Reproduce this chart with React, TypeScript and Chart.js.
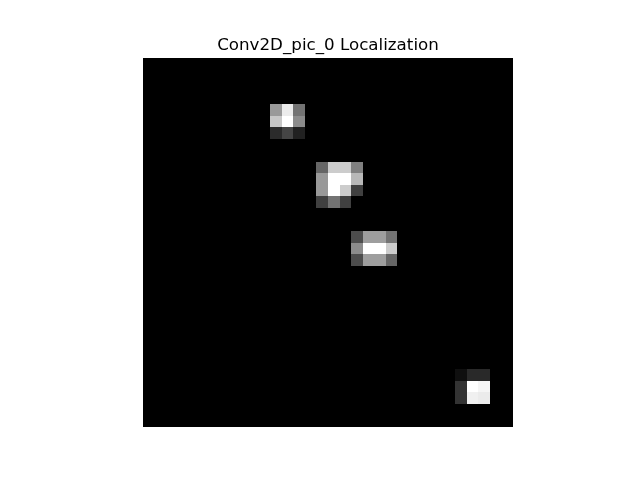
import { useEffect, useRef } from 'react'
import { Chart, registerables } from 'chart.js'

Chart.register(...registerables)

const gridSize = 32
const titleText = 'Conv2D_pic_0 Localization'

// top-left cell (row, col) of each bright patch, and its intensities (0..1)
const patchRows = [4, 9, 15, 27]
const patchCols = [11, 15, 18, 27]
const patchA = [
  [0.6, 0.92, 0.45],
  [0.78, 1.0, 0.55],
  [0.17, 0.27, 0.13]
]
const patchB = [
  [0.4, 0.8, 0.8, 0.5],
  [0.6, 1.0, 1.0, 0.72],
  [0.6, 1.0, 0.8, 0.25],
  [0.25, 0.45, 0.25, 0.0]
]
const patchC = [
  [0.3, 0.62, 0.62, 0.45],
  [0.55, 1.0, 1.0, 0.8],
  [0.3, 0.62, 0.62, 0.4]
]
const patchD = [
  [0.06, 0.16, 0.16],
  [0.2, 1.0, 0.96],
  [0.2, 0.94, 0.92]
]
const patches = [patchA, patchB, patchC, patchD]

function buildCells() {
  const cells: { x: number; y: number; v: number }[] = []
  for (let r = 0; r < gridSize; r++) {
    for (let c = 0; c < gridSize; c++) {
      cells.push({ x: c, y: r, v: 0 })
    }
  }
  patches.forEach((p, i) => {
    p.forEach((row, dr) => {
      row.forEach((v, dc) => {
        const r = patchRows[i] + dr
        const c = patchCols[i] + dc
        cells[r * gridSize + c].v = v
      })
    })
  })
  return cells
}

const heatmapPlugin = {
  id: 'heatmapCells',
  beforeDatasetsDraw(chart: any) {
    const { ctx, scales } = chart
    const xs = scales.x
    const ys = scales.y
    const data = chart.data.datasets[0].data as { x: number; y: number; v: number }[]
    ctx.save()
    data.forEach((d) => {
      const x0 = Math.round(xs.getPixelForValue(d.x))
      const x1 = Math.round(xs.getPixelForValue(d.x + 1))
      const y0 = Math.round(ys.getPixelForValue(d.y))
      const y1 = Math.round(ys.getPixelForValue(d.y + 1))
      const g = Math.round(d.v * 255)
      ctx.fillStyle = `rgb(${g},${g},${g})`
      ctx.fillRect(Math.min(x0, x1), Math.min(y0, y1), Math.abs(x1 - x0), Math.abs(y1 - y0))
    })
    ctx.restore()
  }
}

export default function App() {
  const canvasRef = useRef<HTMLCanvasElement>(null)
  const chartRef = useRef<Chart | null>(null)

  useEffect(() => {
    if (!canvasRef.current) return
    const ctx = canvasRef.current.getContext('2d')
    if (!ctx) return

    chartRef.current = new Chart(ctx, {
      type: 'scatter',
      data: {
        datasets: [
          {
            data: buildCells(),
            pointRadius: 0,
            pointHoverRadius: 0
          }
        ]
      },
      options: {
        responsive: true,
        maintainAspectRatio: false,
        animation: false,
        layout: { padding: { left: 143, right: 127, top: 36, bottom: 53 } },
        scales: {
          x: { type: 'linear', min: 0, max: gridSize, display: false },
          y: { type: 'linear', min: 0, max: gridSize, reverse: true, display: false }
        },
        plugins: {
          legend: { display: false },
          tooltip: { enabled: false },
          title: {
            display: true,
            text: titleText,
            color: '#000000',
            font: { family: 'DejaVu Sans', size: 16.7, weight: 'normal' },
            padding: { top: 0, bottom: 2 }
          }
        }
      },
      plugins: [heatmapPlugin]
    })

    return () => {
      if (chartRef.current) chartRef.current.destroy()
    }
  }, [])

  return (
    <div style={{ position: 'relative', width: '640px', height: '480px', margin: '-8px', background: '#ffffff' }}>
      <canvas ref={canvasRef}></canvas>
    </div>
  )
}
